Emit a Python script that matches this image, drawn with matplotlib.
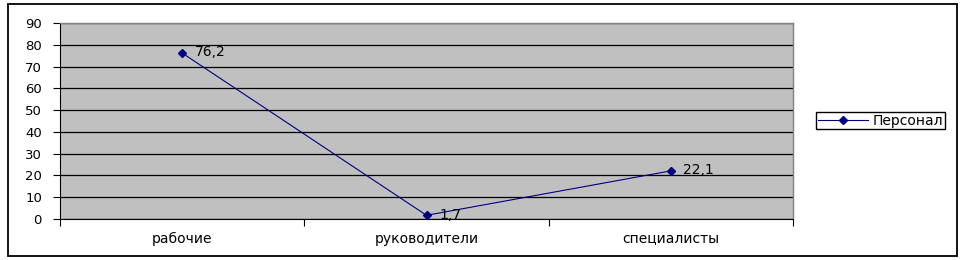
import matplotlib
matplotlib.use("Agg")
import matplotlib.pyplot as plt
from matplotlib.patches import Rectangle

categories = ["рабочие", "руководители", "специалисты"]
values = [76.2, 1.7, 22.1]
labels = ["76,2", "1,7", "22,1"]
series_name = "Персонал"
yticks = [0, 10, 20, 30, 40, 50, 60, 70, 80, 90]

plt.rcParams['font.family'] = ['DejaVu Sans']

W, H = 964, 260
fig = plt.figure(figsize=(W/100, H/100), dpi=100)
fig.patch.set_facecolor('white')

# outer border
fig.add_artist(Rectangle((8/W, 4/H), (957-8)/W, (256-4)/H, transform=fig.transFigure,
                         fill=False, edgecolor='black', linewidth=1.3))

ax = fig.add_axes([60/W, 1-219/H, (793-60)/W, (219-23)/H])
ax.set_facecolor('#C0C0C0')
x = list(range(len(categories)))
ax.plot(x, values, color='#000080', linewidth=0.8, marker='D', markersize=4.5,
        markerfacecolor='#000080', markeredgecolor='#000080', label=series_name, zorder=3)
for xi, v, t in zip(x, values, labels):
    ax.annotate(t, (xi, v), xytext=(9, 0.5), textcoords='offset points', va='center', ha='left',
                fontsize=10, color='black', annotation_clip=False, zorder=4)

ax.set_ylim(0, 90)
ax.set_xlim(-0.5, len(categories) - 0.5)
ax.set_yticks(yticks)
ax.set_yticklabels([str(v) for v in yticks], fontsize=9.5)
ax.yaxis.grid(True, color='black', linewidth=0.9)
ax.set_axisbelow(True)

ax.set_xticks([i - 0.5 for i in range(len(categories) + 1)])
ax.set_xticklabels([])
ax.set_xticks(x, minor=True)
ax.set_xticklabels(categories, minor=True, fontsize=10)
ax.tick_params(axis='x', which='minor', length=0, pad=9)
ax.tick_params(axis='x', which='major', length=5, direction='out', color='black')
ax.tick_params(axis='y', length=5, direction='out', pad=8, color='black')

for s in ['top', 'right']:
    ax.spines[s].set_color('#808080')
    ax.spines[s].set_linewidth(1.0)
ax.spines['left'].set_color('black')
ax.spines['bottom'].set_color('black')

leg = ax.legend(loc='center', bbox_to_anchor=(880.5/W, 1-120.5/H), bbox_transform=fig.transFigure,
                fancybox=False, edgecolor='black', framealpha=1, fontsize=10,
                handlelength=3.6, borderpad=0.1, handletextpad=0.35, borderaxespad=0)
leg.get_frame().set_linewidth(1.0)

fig.savefig('out.png', dpi=100)
